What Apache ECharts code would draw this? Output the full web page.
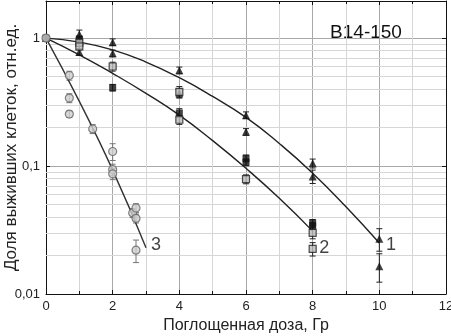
<!DOCTYPE html>
<html>
<head>
<meta charset="utf-8">
<script src="https://cdn.jsdelivr.net/npm/echarts@6/dist/echarts.min.js"></script>
<style>
  html, body { margin: 0; padding: 0; background: #fff; }
  #chart { width: 451px; height: 336px; }
</style>
</head>
<body>
<div id="chart"></div>
<script>
// curve 1 - triangles
const s1X = [0, 1, 1, 2, 2, 4, 4, 6, 6, 8, 8, 10, 10];
const s1Y = [1.0, 1.07, 0.78, 0.93, 0.76, 0.56, 0.37, 0.25, 0.185, 0.105, 0.083, 0.027, 0.0165];
const s1Err = [0, 8, 6, 6, 6, 6, 8, 6, 6, 8, 12, 20, 25]; // percent

// curve 2 - squares (filled / half-open)
const s2X = [0, 1, 2, 4, 6, 6, 8, 8];
const s2Y = [1.0, 0.98, 0.41, 0.26, 0.115, 0.107, 0.036, 0.034];
const s2Err = [0, 6, 6, 8, 6, 6, 6, 6];
const s2oX = [1, 1, 2, 4, 4, 6, 8, 8];
const s2oY = [0.92, 0.86, 0.60, 0.38, 0.23, 0.079, 0.030, 0.0225];
const s2oErr = [6, 6, 8, 10, 8, 8, 10, 12];

// curve 3 - circles
const s3X = [0, 0.7, 0.7, 0.7, 1.4, 2, 2, 2, 2.6, 2.7, 2.7, 2.7];
const s3Y = [1.0, 0.51, 0.34, 0.255, 0.195, 0.13, 0.094, 0.087, 0.043, 0.047, 0.039, 0.022];
const s3Err = [0, 8, 8, 6, 8, 15, 10, 10, 8, 8, 8, 20];

// fitted curves
const fit1X = [0, 1, 2, 3, 4, 5, 6, 7, 8, 9, 10];
const fit1Y = [1.0, 0.93, 0.81, 0.65, 0.49, 0.35, 0.24, 0.15, 0.088, 0.048, 0.025];
const fit2X = [0, 1, 2, 3, 4, 5, 6, 7, 8];
const fit2Y = [1.0, 0.74, 0.53, 0.37, 0.25, 0.158, 0.096, 0.056, 0.031];
const fit3X = [0, 1, 2, 3];
const fit3Y = [1.0, 0.32, 0.093, 0.023];

const curveLabels = ["1", "2", "3"];
const labelX = [10.35, 8.35, 3.3];
const labelY = [0.024, 0.023, 0.024];

const minorY = [0.02, 0.03, 0.04, 0.05, 0.06, 0.07, 0.08, 0.09,
                0.2, 0.3, 0.4, 0.5, 0.6, 0.7, 0.8, 0.9];

const zip = (xs, ys) => xs.map((x, i) => [x, ys[i]]);
const errData = (xs, ys, es) => xs.map((x, i) => [x, ys[i] * (1 - es[i] / 100), ys[i] * (1 + es[i] / 100)]);

function errorBars(data, color) {
  return {
    type: "custom",
    z: 3,
    silent: true,
    data: data,
    renderItem: (params, api) => {
      const lo = api.coord([api.value(0), api.value(1)]);
      const hi = api.coord([api.value(0), api.value(2)]);
      if (Math.abs(hi[1] - lo[1]) < 1) return null;
      const st = { stroke: color, lineWidth: 1 };
      return {
        type: "group",
        children: [
          { type: "line", shape: { x1: lo[0], y1: lo[1], x2: hi[0], y2: hi[1] }, style: st },
          { type: "line", shape: { x1: lo[0] - 3, y1: lo[1], x2: lo[0] + 3, y2: lo[1] }, style: st },
          { type: "line", shape: { x1: hi[0] - 3, y1: hi[1], x2: hi[0] + 3, y2: hi[1] }, style: st },
        ],
      };
    },
  };
}

const chart = echarts.init(document.getElementById("chart"));
const font = "Liberation Sans, Arial, sans-serif";

chart.setOption({
  animation: false,
  textStyle: { fontFamily: font },
  grid: { left: 46, right: 5, top: 1, bottom: 42, outerBoundsMode: "none", containLabel: false },
  xAxis: [{
    type: "value",
    min: 0, max: 12, interval: 2,
    name: "Поглощенная доза, Гр",
    nameLocation: "middle",
    nameGap: 24,
    nameMoveOverlap: false,
    nameTextStyle: { fontSize: 16, color: "#222", fontFamily: font },
    axisLine: { onZero: false, lineStyle: { color: "#111", width: 1 } },
    axisTick: { inside: true, length: 4, lineStyle: { color: "#111" } },
    minorTick: { show: true, splitNumber: 2, length: 3, lineStyle: { color: "#111" } },
    minorSplitLine: { show: true, lineStyle: { color: "#d6d6d6", width: 1 } },
    axisLabel: { fontSize: 13, color: "#222", margin: 6 },
    splitLine: { show: true, lineStyle: { color: "#a8a8a8", width: 1 } },
  }, {
    type: "value",
    position: "top",
    min: 0, max: 12, interval: 2,
    axisLine: { onZero: false, lineStyle: { color: "#111" } },
    axisTick: { inside: true, length: 4, lineStyle: { color: "#111" } },
    minorTick: { show: true, splitNumber: 2, length: 3, lineStyle: { color: "#111" } },
    axisLabel: { show: false },
    splitLine: { show: false },
  }],
  yAxis: [{
    type: "log",
    logBase: 10,
    min: 0.01, max: 1.95,
    name: "Доля выживших клеток, отн.ед.",
    nameLocation: "middle",
    nameGap: 26,
    nameMoveOverlap: false,
    nameTextStyle: { fontSize: 17, color: "#222", fontFamily: font },
    axisLine: { show: true, onZero: false, lineStyle: { color: "#111" } },
    axisTick: { show: true, inside: true, length: 4, lineStyle: { color: "#111" } },
    axisLabel: {
      fontSize: 13, color: "#222", margin: 6,
      formatter: (v) => {
        const p = Math.round(Math.log10(v));
        if (Math.abs(Math.log10(v) - p) > 0.01) return "";
        return p === 0 ? "1" : p === -1 ? "0,1" : p === -2 ? "0,01" : "";
      },
    },
    splitLine: { show: true, lineStyle: { color: "#a8a8a8", width: 1 } },
  }, {
    type: "log",
    logBase: 10,
    min: 0.01, max: 1.95,
    position: "right",
    axisLine: { show: true, onZero: false, lineStyle: { color: "#111" } },
    axisTick: { show: true, inside: true, length: 4, lineStyle: { color: "#111" } },
    axisLabel: { show: false },
    splitLine: { show: false },
  }],
  graphic: [{
    type: "group",
    right: 26, top: 19,
    z: 10,
    children: [
      { type: "rect", shape: { x: 0, y: 0, width: 118, height: 27 }, style: { fill: "#fff" } },
      { type: "text", x: 59, y: 14, style: { text: "B14-150", fill: "#111", font: "19px " + font, align: "center", verticalAlign: "middle" } },
    ],
  }],
  series: [
    {
      type: "line",
      data: [],
      z: 1,
      silent: true,
      markLine: {
        silent: true,
        symbol: "none",
        label: { show: false },
        z: 1,
        lineStyle: { color: "#d6d6d6", width: 1, type: "solid" },
        data: minorY.map((v) => ({ yAxis: v })),
      },
    },
    { type: "line", data: zip(fit1X, fit1Y), smooth: true, showSymbol: false, lineStyle: { color: "#222", width: 1.4, type: "solid" }, z: 3 },
    { type: "line", data: zip(fit2X, fit2Y), smooth: true, showSymbol: false, lineStyle: { color: "#222", width: 1.4, type: "solid" }, z: 3 },
    { type: "line", data: zip(fit3X, fit3Y), smooth: true, showSymbol: false, lineStyle: { color: "#333", width: 1.4, type: "solid" }, z: 3 },
    errorBars(errData(s1X, s1Y, s1Err), "#222"),
    errorBars(errData(s2X, s2Y, s2Err), "#222"),
    errorBars(errData(s2oX, s2oY, s2oErr), "#222"),
    errorBars(errData(s3X, s3Y, s3Err), "#777"),
    { type: "scatter", data: zip(s1X, s1Y), symbol: "triangle", symbolSize: 8, itemStyle: { color: "#111" }, z: 4 },
    { type: "scatter", data: zip(s2X, s2Y), symbol: "rect", symbolSize: 7, itemStyle: { color: "#111" }, z: 4 },
    { type: "scatter", data: zip(s2oX, s2oY), symbol: "rect", symbolSize: 7, itemStyle: { color: "#bbb", borderColor: "#222", borderWidth: 1.2 }, z: 4 },
    { type: "scatter", data: zip(s3X, s3Y), symbol: "circle", symbolSize: 8, itemStyle: { color: "#d0d0d0", borderColor: "#666", borderWidth: 1.2 }, z: 4 },
    {
      type: "scatter",
      data: labelX.map((x, i) => ({ value: [x, labelY[i]], name: curveLabels[i] })),
      symbolSize: 1,
      itemStyle: { color: "transparent" },
      label: { show: true, position: "inside", formatter: (p) => p.name, fontSize: 18, color: "#111", fontFamily: font },
      z: 5,
    },
  ],
});
</script>
</body>
</html>
